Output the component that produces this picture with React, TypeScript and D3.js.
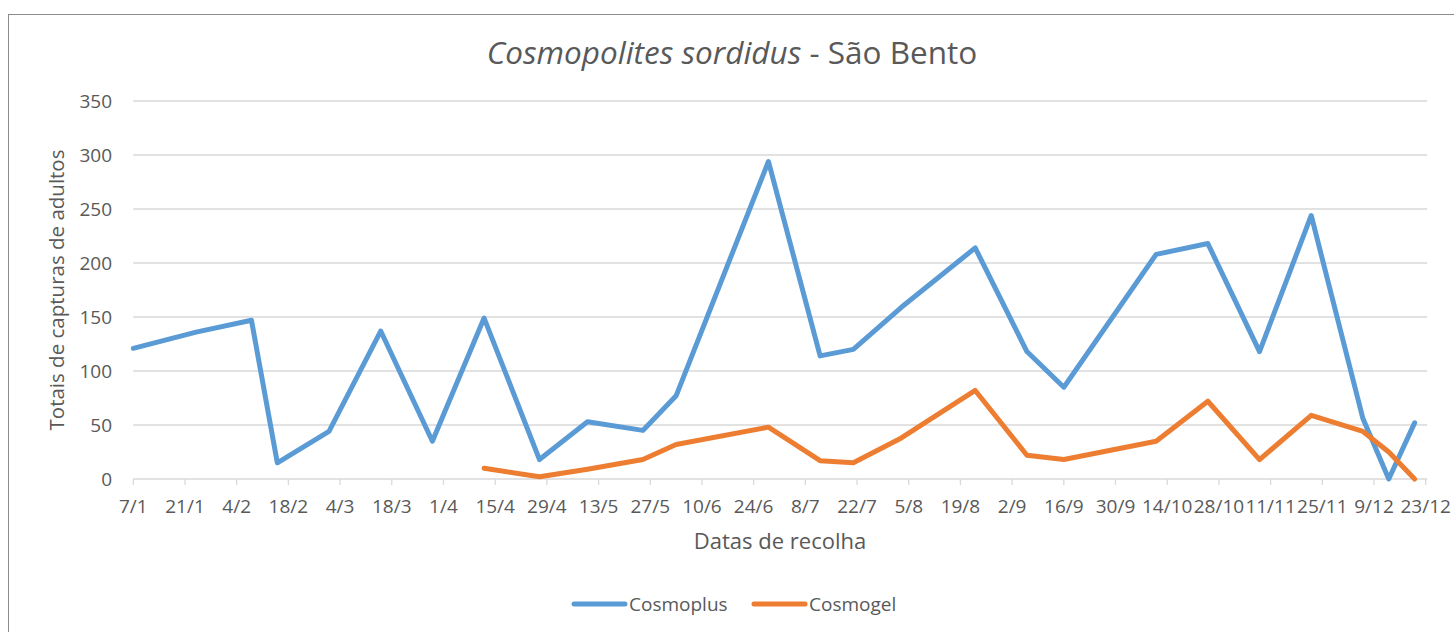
import React from "react";
import * as d3 from "d3";

// collection dates (d/m) and totals per trap type
const sampleDates = [
  "7/1", "24/1", "8/2", "15/2", "1/3", "15/3", "29/3", "12/4", "27/4", "10/5",
  "25/5", "3/6", "28/6", "12/7", "21/7", "3/8", "23/8", "6/9", "16/9", "11/10",
  "25/10", "8/11", "22/11", "6/12", "13/12", "20/12",
];
const cosmoplus = [
  121, 136, 147, 15, 44, 137, 35, 149, 18, 53,
  45, 77, 294, 114, 120, 159, 214, 118, 85, 208,
  218, 118, 244, 56, 0, 52,
];
const cosmogel: (number | null)[] = [
  null, null, null, null, null, null, null, 10, 2, 9,
  18, 32, 48, 17, 15, 38, 82, 22, 18, 35,
  72, 18, 59, 44, 25, 0,
];
const xTickLabels = [
  "7/1", "21/1", "4/2", "18/2", "4/3", "18/3", "1/4", "15/4", "29/4", "13/5",
  "27/5", "10/6", "24/6", "8/7", "22/7", "5/8", "19/8", "2/9", "16/9", "30/9",
  "14/10", "28/10", "11/11", "25/11", "9/12", "23/12",
];
const yTicks = [0, 50, 100, 150, 200, 250, 300, 350];
const seriesNames = ["Cosmoplus", "Cosmogel"];
const seriesColors = ["#5B9BD5", "#ED7D31"];

const W = 1454;
const H = 632;
const FONT = "'Open Sans', 'DejaVu Sans', sans-serif";
const TEXT = "#595959";

const parse = (s: string) => d3.timeParse("%d/%m/%Y")(s + "/2015") as Date;

export default function App() {
  const x = d3
    .scaleTime()
    .domain([parse(xTickLabels[0]), parse(xTickLabels[xTickLabels.length - 1])])
    .range([133.3, 1425.7]);
  const y = d3.scaleLinear().domain([0, 350]).range([479, 101]);

  const rows = sampleDates.map((d, i) => ({
    date: parse(d),
    plus: cosmoplus[i],
    gel: cosmogel[i],
  }));

  const linePlus = d3
    .line<any>()
    .x((d) => x(d.date))
    .y((d) => y(d.plus));
  const lineGel = d3
    .line<any>()
    .defined((d) => d.gel != null)
    .x((d) => x(d.date))
    .y((d) => y(d.gel));

  const [x0, x1] = x.range();

  return (
    <svg
      width={W}
      height={H}
      style={{ position: "absolute", left: 0, top: 0, background: "#fff" }}
      fontFamily={FONT}
    >
      <rect x={8.5} y={14.5} width={1460} height={640} fill="#fff" stroke="#8c8c8c" />

      {/* title */}
      <text x={732} y={64} textAnchor="middle" fontSize={31.5} fill={TEXT}>
        <tspan fontStyle="italic">Cosmopolites sordidus</tspan>
        <tspan> - São Bento</tspan>
      </text>

      {/* gridlines + y labels */}
      {yTicks.map((t) => (
        <g key={t}>
          <line x1={x0} x2={x1 + 1.5} y1={y(t)} y2={y(t)} stroke="#d9d9d9" strokeWidth={1.3} />
          <text x={112} y={y(t)} dy="0.35em" textAnchor="end" fontSize={19} fill={TEXT}>
            {t}
          </text>
        </g>
      ))}

      {/* x ticks */}
      {xTickLabels.map((l) => {
        const px = x(parse(l));
        return (
          <g key={l}>
            <line x1={px} x2={px} y1={479} y2={485} stroke="#d9d9d9" strokeWidth={1.3} />
            <text x={px} y={513} textAnchor="middle" fontSize={19} fill={TEXT}>
              {l}
            </text>
          </g>
        );
      })}

      {/* axis titles */}
      <text x={780} y={549} textAnchor="middle" fontSize={22} fill={TEXT}>
        Datas de recolha
      </text>
      <text
        transform="translate(64,290) rotate(-90)"
        textAnchor="middle"
        fontSize={20.5}
        fill={TEXT}
      >
        Totais de capturas de adultos
      </text>

      {/* series */}
      <path d={linePlus(rows) ?? ""} fill="none" stroke={seriesColors[0]} strokeWidth={5} strokeLinejoin="round" strokeLinecap="round" />
      <path d={lineGel(rows) ?? ""} fill="none" stroke={seriesColors[1]} strokeWidth={5} strokeLinejoin="round" strokeLinecap="round" />

      {/* legend */}
      {seriesNames.map((n, i) => {
        const lx = 574 + i * 180;
        return (
          <g key={n}>
            <line x1={lx} x2={lx + 51} y1={604} y2={604} stroke={seriesColors[i]} strokeWidth={5} strokeLinecap="round" />
            <text x={lx + 55} y={604} dy="0.35em" fontSize={19} fill={TEXT}>
              {n}
            </text>
          </g>
        );
      })}
    </svg>
  );
}
